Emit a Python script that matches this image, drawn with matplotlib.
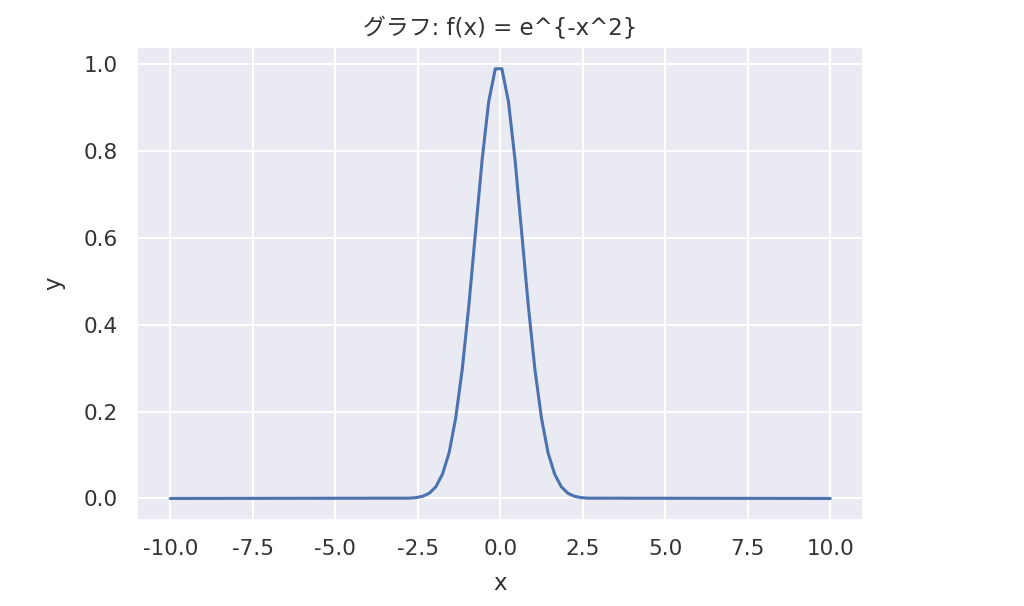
import matplotlib
matplotlib.use('Agg')
import matplotlib.pyplot as plt
import seaborn as sns

# points (flat at 0 outside about |x| > 2.5)
x_vals = [-10.0, -2.75, -2.55, -2.35, -2.15, -1.95, -1.75, -1.55, -1.35, -1.15,
          -0.95, -0.75, -0.55, -0.35, -0.15, 0.05, 0.25, 0.45, 0.65, 0.85, 1.05,
          1.25, 1.45, 1.65, 1.85, 2.05, 2.25, 2.45, 2.65, 10.0]
y_vals = [0.0, 0.0007, 0.002, 0.005, 0.012, 0.027, 0.056, 0.105, 0.185, 0.298,
          0.445, 0.613, 0.779, 0.914, 0.990, 0.990, 0.914, 0.779, 0.613, 0.445,
          0.298, 0.185, 0.105, 0.056, 0.027, 0.012, 0.005, 0.002, 0.0007, 0.0]

title = 'グラフ: f(x) = e^{-x^2}'

sns.set_theme(style='darkgrid')
plt.rcParams['font.family'] = ['DejaVu Sans', 'Noto Sans CJK JP']
plt.rcParams['axes.unicode_minus'] = False

fig = plt.figure(figsize=(10.24, 6.06), dpi=100)
ax = fig.add_axes([0.134, 0.142, 0.709, 0.780])
ax.plot(x_vals, y_vals, color='#4c72b0', linewidth=2.2)
ax.set_xlim(-11.0, 11.0)
ax.set_xticks([-10.0, -7.5, -5.0, -2.5, 0.0, 2.5, 5.0, 7.5, 10.0])
ax.set_yticks([0.0, 0.2, 0.4, 0.6, 0.8, 1.0])
ax.tick_params(labelsize=15.5, colors='#333333', pad=8)
ax.set_title(title, fontsize=16.5, color='#333333', pad=9)
ax.set_xlabel('x', fontsize=16.5, color='#333333', labelpad=9)
ax.set_ylabel('y', fontsize=16.5, color='#333333', labelpad=13)
ax.grid(linewidth=1.5)

fig.savefig('out.png', dpi=100)
